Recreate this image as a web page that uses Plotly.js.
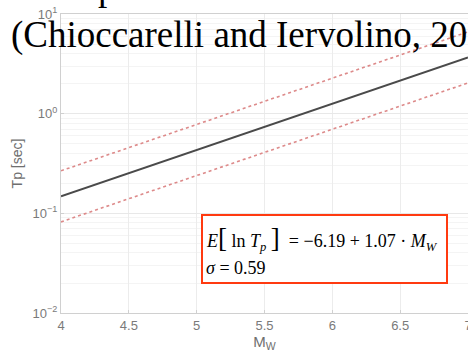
<!DOCTYPE html>
<html>
<head>
<meta charset="utf-8">
<script src="https://cdn.plot.ly/plotly-3.0.1.min.js"></script>
<style>
  html, body { margin: 0; padding: 0; overflow: hidden; background: #fff; }
  #chart { width: 468px; height: 352px; overflow: hidden; }
</style>
</head>
<body>
<div id="chart"></div>
<script>
// Magnitude range of the curves
const magnitudes = [4, 7];

// Regression coefficients for ln(Tp) and its standard deviation
const intercept = -6.19;
const slope = 1.07;
const sigma = 0.59;

// Axis ticks
const xTickValues = [4, 4.5, 5, 5.5, 6, 6.5, 7];
const xTickLabels = ['4', '4.5', '5', '5.5', '6', '6.5', '7'];
const yTickValues = [0.01, 0.1, 1, 10];
const yTickLabels = ['10<sup>\u22122</sup>', '10<sup>\u22121</sup>', '10<sup>0</sup>', '10<sup>1</sup>'];

const meanLn = magnitudes.map(m => intercept + slope * m);
const median = meanLn.map(v => Math.exp(v));
const upper = meanLn.map(v => Math.exp(v + sigma));
const lower = meanLn.map(v => Math.exp(v - sigma));

const fmt = v => v.toFixed(2);
const eqLine1 = '<i>E</i><span style="font-size:27px">[</span> ln <i>T</i><sub><i>p</i></sub> <span style="font-size:27px">]</span>  = \u2212' +
  fmt(-intercept) + ' + ' + fmt(slope) + ' \u00b7 <i>M</i><sub><i>W</i></sub>';
const eqLine2 = '<i>\u03c3</i> = ' + fmt(sigma);

const dotted = { color: '#dd8a8a', width: 1.6, dash: 'dot' };

const traces = [
  { x: magnitudes, y: upper, mode: 'lines', line: dotted, hoverinfo: 'skip' },
  { x: magnitudes, y: lower, mode: 'lines', line: dotted, hoverinfo: 'skip' },
  { x: magnitudes, y: median, mode: 'lines', line: { color: '#4a4a4a', width: 2 }, hoverinfo: 'skip' }
];

// plot-area helpers (pixel -> paper); the figure runs a little past the right edge of the page
const FW = 500, FH = 352;
const L = 61, T = 14, W = 407, H = 299;
const px = x => (x - L) / W;
const py = y => (T + H - y) / H;

const serif = 'Liberation Serif, Times New Roman, serif';
const sans = 'Liberation Sans, Arial, sans-serif';
const tickFont = { family: sans, size: 13, color: '#7a7a7a' };

const layout = {
  width: FW,
  height: FH,
  margin: { l: L, r: FW - L - W, t: T, b: FH - T - H, pad: 0 },
  paper_bgcolor: '#fff',
  plot_bgcolor: '#fff',
  showlegend: false,
  xaxis: {
    range: [4, 7],
    tickmode: 'array',
    tickvals: xTickValues,
    ticktext: xTickLabels,
    tickfont: tickFont,
    ticks: 'inside',
    ticklen: 3,
    tickcolor: '#d0d0d0',
    showline: true,
    linecolor: '#d0d0d0',
    linewidth: 1,
    mirror: true,
    showgrid: true,
    gridcolor: '#ececec',
    zeroline: false,
    title: { text: 'M<sub>W</sub>', font: { family: sans, size: 15, color: '#6f6f6f' }, standoff: 1 }
  },
  yaxis: {
    type: 'log',
    range: [-2, 1],
    tickmode: 'array',
    tickvals: yTickValues,
    ticktext: yTickLabels,
    tickfont: tickFont,
    ticks: 'inside',
    ticklen: 3,
    tickcolor: '#d0d0d0',
    showline: true,
    linecolor: '#d0d0d0',
    linewidth: 1,
    mirror: true,
    showgrid: true,
    gridcolor: '#e8e8e8',
    minor: { showgrid: true, dtick: 'D1', gridcolor: '#f4f4f4', ticks: '' },
    zeroline: false,
    title: { text: 'Tp [sec]', font: { family: sans, size: 14, color: '#6f6f6f' }, standoff: 6 }
  },
  shapes: [
    { type: 'rect', xref: 'paper', yref: 'paper',
      x0: px(202), x1: px(447), y0: py(215), y1: py(283),
      line: { color: '#ff3a10', width: 2 }, fillcolor: '#ffffff', layer: 'above' }
  ],
  annotations: [
    { xref: 'paper', yref: 'paper', x: px(9), y: py(35), xanchor: 'left', yanchor: 'middle',
      text: '(Chioccarelli and Iervolino, 2013)', showarrow: false,
      font: { family: serif, size: 37, color: '#000' } },
    { xref: 'paper', yref: 'paper', x: px(96), y: py(-13), xanchor: 'left', yanchor: 'middle',
      text: 'p', showarrow: false,
      font: { family: serif, size: 37, color: '#000' } },
    { xref: 'paper', yref: 'paper', x: px(204), y: py(239), xanchor: 'left', yanchor: 'middle',
      text: eqLine1, showarrow: false, align: 'left',
      font: { family: serif, size: 18, color: '#000' } },
    { xref: 'paper', yref: 'paper', x: px(204), y: py(268), xanchor: 'left', yanchor: 'middle',
      text: eqLine2, showarrow: false, align: 'left',
      font: { family: serif, size: 18, color: '#000' } }
  ]
};

Plotly.newPlot('chart', traces, layout, { staticPlot: true, displayModeBar: false });
</script>
</body>
</html>
